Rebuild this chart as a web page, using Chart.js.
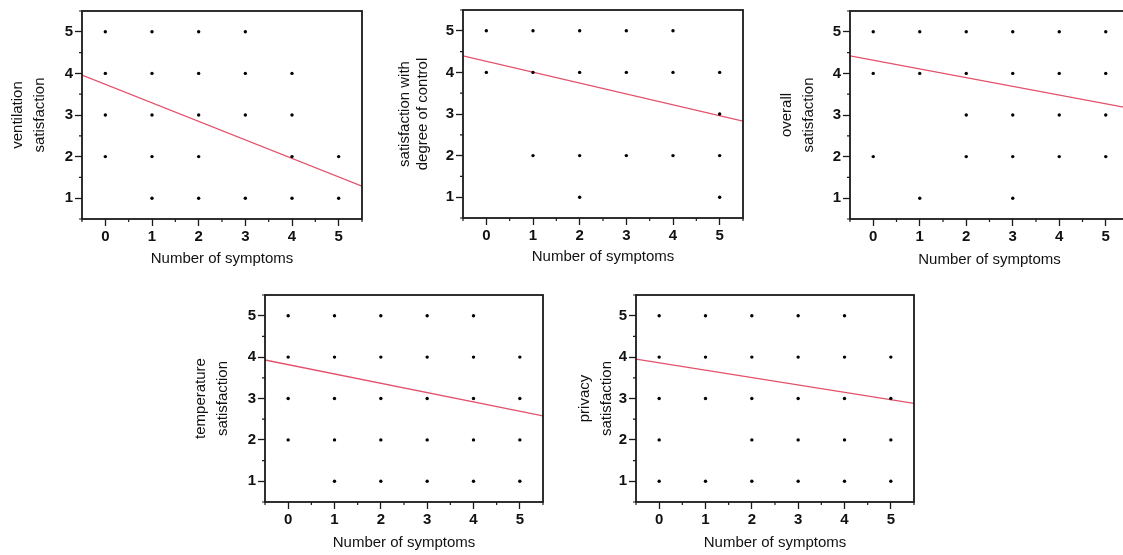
<!DOCTYPE html>
<html>
<head>
<meta charset="utf-8">
<script src="https://cdn.jsdelivr.net/npm/chart.js@4.4.1/dist/chart.umd.min.js"></script>
<style>
  html, body { margin: 0; padding: 0; background: #fff; overflow: hidden; }
  body { width: 1123px; height: 555px; position: relative; }
  canvas { position: absolute; }
</style>
</head>
<body>
<canvas id="c1"></canvas>
<canvas id="c2"></canvas>
<canvas id="c3"></canvas>
<canvas id="c4"></canvas>
<canvas id="c5"></canvas>
<script>
// x categories (number of symptoms) and satisfaction levels seen at each x
const symptomCounts = [0, 1, 2, 3, 4, 5];
const xTitle = 'Number of symptoms';
const fitX = [-0.5, 5.5];

const ventilationTitle = ['ventilation', 'satisfaction'];
const ventilationPoints = [[5, 4, 3, 2], [5, 4, 3, 2, 1], [5, 4, 3, 2, 1], [5, 4, 3, 1], [4, 3, 2, 1], [2, 1]];
const ventilationFit = [3.96, 1.29];

const controlTitle = ['satisfaction with', 'degree of control'];
const controlPoints = [[5, 4], [5, 4, 2], [5, 4, 2, 1], [5, 4, 2], [5, 4, 2], [4, 3, 2, 1]];
const controlFit = [4.40, 2.83];

const overallTitle = ['overall', 'satisfaction'];
const overallPoints = [[5, 4, 2], [5, 4, 1], [5, 4, 3, 2], [5, 4, 3, 2, 1], [5, 4, 3, 2], [5, 4, 3, 2]];
const overallFit = [4.42, 3.165];

const temperatureTitle = ['temperature', 'satisfaction'];
const temperaturePoints = [[5, 4, 3, 2], [5, 4, 3, 2, 1], [5, 4, 3, 2, 1], [5, 4, 3, 2, 1], [5, 4, 3, 2, 1], [4, 3, 2, 1]];
const temperatureFit = [3.93, 2.58];

const privacyTitle = ['privacy', 'satisfaction'];
const privacyPoints = [[5, 4, 3, 2, 1], [5, 4, 3, 1], [5, 4, 3, 2, 1], [5, 4, 3, 2, 1], [5, 4, 3, 2, 1], [4, 3, 2, 1]];
const privacyFit = [3.95, 2.88];

const FONT = "'Liberation Sans', Arial, sans-serif";
const AXIS_W = 82, PAD_TOP = 10, PAD_RIGHT = 8, AXIS_H = 51;

// frame + short minor ticks at the half values
const framePlugin = {
  id: 'frame',
  afterDraw(chart) {
    const { ctx, chartArea: a, scales } = chart;
    ctx.save();
    ctx.strokeStyle = '#1a1a1a';
    ctx.lineWidth = 1.8;
    ctx.strokeRect(a.left, a.top, a.right - a.left, a.bottom - a.top);
    ctx.lineWidth = 1.2;
    ctx.beginPath();
    for (let v = -0.5; v <= 5.5; v += 1) {
      const px = scales.x.getPixelForValue(v);
      ctx.moveTo(px, a.bottom);
      ctx.lineTo(px, a.bottom + 3);
    }
    for (let v = 0.5; v <= 5.5; v += 1) {
      const py = scales.y.getPixelForValue(v);
      ctx.moveTo(a.left, py);
      ctx.lineTo(a.left - 3, py);
    }
    ctx.stroke();
    ctx.restore();
  }
};

function makePanel(id, plotLeft, plotTop, plotRight, plotBottom, title, points, fit, titleLeft, titleLH, xTitleGap) {
  const canvas = document.getElementById(id);
  canvas.width = plotRight - plotLeft + AXIS_W + PAD_RIGHT;
  canvas.height = plotBottom - plotTop + PAD_TOP + AXIS_H;
  canvas.style.left = (plotLeft - AXIS_W) + 'px';
  canvas.style.top = (plotTop - PAD_TOP) + 'px';

  const scatter = [];
  symptomCounts.forEach((x, i) => points[i].forEach(y => scatter.push({ x: x, y: y })));

  const majorTick = c => Number.isInteger(c.tick.value) ? '#1a1a1a' : 'rgba(0,0,0,0)';

  new Chart(canvas, {
    type: 'scatter',
    data: {
      datasets: [
        {
          data: scatter,
          pointRadius: 1.7,
          pointBorderWidth: 0,
          backgroundColor: '#000'
        },
        {
          data: [{ x: fitX[0], y: fit[0] }, { x: fitX[1], y: fit[1] }],
          showLine: true,
          borderColor: '#e3506a',
          borderWidth: 1.3,
          pointRadius: 0
        }
      ]
    },
    options: {
      responsive: false,
      animation: false,
      devicePixelRatio: 1,
      layout: { padding: { top: PAD_TOP, right: PAD_RIGHT, left: 0, bottom: 0 } },
      plugins: { legend: { display: false }, tooltip: { enabled: false } },
      scales: {
        x: {
          type: 'linear',
          min: -0.5, max: 5.5,
          afterFit: s => { s.height = AXIS_H; },
          border: { display: false },
          grid: { drawOnChartArea: false, tickLength: 7, tickWidth: 1.3, tickColor: majorTick },
          ticks: {
            stepSize: 0.5, autoSkip: false, maxRotation: 0, padding: 2,
            color: '#111',
            font: { family: FONT, size: 15, weight: 'bold' },
            callback: v => Number.isInteger(v) ? v : ''
          },
          title: {
            display: true, text: xTitle, color: '#111',
            font: { family: FONT, size: 15, lineHeight: '18px' },
            padding: { top: 0, bottom: AXIS_H - xTitleGap - 9 }
          }
        },
        y: {
          type: 'linear',
          min: 0.5, max: 5.5,
          afterFit: s => { s.width = AXIS_W; },
          border: { display: false },
          grid: { drawOnChartArea: false, tickLength: 7, tickWidth: 1.3, tickColor: majorTick },
          ticks: {
            stepSize: 0.5, autoSkip: false, padding: 2,
            color: '#111',
            font: { family: FONT, size: 15, weight: 'bold' },
            callback: v => Number.isInteger(v) ? v : ''
          },
          title: {
            display: true, text: title, color: '#111',
            font: { family: FONT, size: 15, lineHeight: titleLH + 'px' },
            padding: { top: titleLeft - titleLH / 2, bottom: 0 }
          }
        }
      }
    },
    plugins: [framePlugin]
  });
}

makePanel('c1', 82, 10, 362, 219, ventilationTitle, ventilationPoints, ventilationFit, 18, 22, 40);
makePanel('c2', 463, 9, 743, 218, controlTitle, controlPoints, controlFit, 24, 18, 39);
makePanel('c3', 850, 10, 1129, 219, overallTitle, overallPoints, overallFit, 19, 22, 41);
makePanel('c4', 265, 294, 543, 502, temperatureTitle, temperaturePoints, temperatureFit, 18, 22, 41);
makePanel('c5', 636, 294, 914, 502, privacyTitle, privacyPoints, privacyFit, 31, 22, 41);
</script>
</body>
</html>
